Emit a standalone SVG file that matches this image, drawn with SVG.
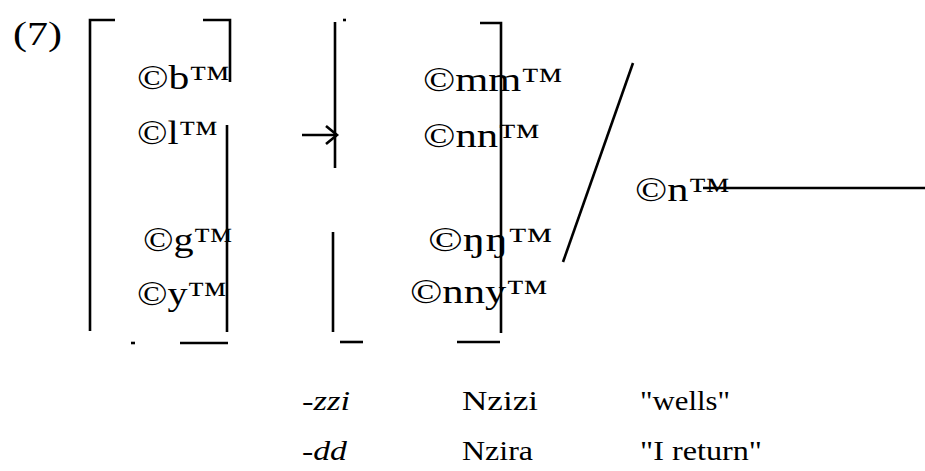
<svg xmlns="http://www.w3.org/2000/svg" width="925" height="471" viewBox="0 0 925 471">
<style>
text{font-family:"Liberation Serif","Times New Roman",serif;fill:#000}
.s{font-size:34px}
.b{font-size:28px}
.i{font-style:italic}
.ln{stroke:#000;stroke-width:2.6;fill:none;stroke-linecap:butt}
</style>
<rect width="925" height="471" fill="#fff"/>
<g id="label"><text class="s" x="13" y="45" textLength="49" lengthAdjust="spacingAndGlyphs">(7)</text></g>
<g id="set1">
<text class="s" x="137" y="89" textLength="93" lengthAdjust="spacingAndGlyphs">©b™</text>
<text class="s" x="137" y="144" textLength="81" lengthAdjust="spacingAndGlyphs">©l™</text>
<text class="s" x="143" y="251" textLength="90" lengthAdjust="spacingAndGlyphs">©g™</text>
<text class="s" x="137" y="305" textLength="90" lengthAdjust="spacingAndGlyphs">©y™</text>
</g>
<g id="set2">
<text class="s" x="423" y="91" textLength="140" lengthAdjust="spacingAndGlyphs">©mm™</text>
<text class="s" x="423" y="147" textLength="117" lengthAdjust="spacingAndGlyphs">©nn™</text>
<text class="s" x="428" y="251" textLength="125" lengthAdjust="spacingAndGlyphs">©ŋŋ™</text>
<text class="s" x="410" y="303" textLength="138" lengthAdjust="spacingAndGlyphs">©nny™</text>
</g>
<g id="env"><text class="s" x="635" y="201" textLength="95" lengthAdjust="spacingAndGlyphs">©n™</text></g>
<g id="examples">
<text class="b i" x="302" y="410" textLength="48" lengthAdjust="spacingAndGlyphs">-zzi</text>
<text class="b" x="462" y="410" textLength="76" lengthAdjust="spacingAndGlyphs">Nzizi</text>
<text class="b" x="640" y="410" textLength="90" lengthAdjust="spacingAndGlyphs">"wells"</text>
<text class="b i" x="302" y="460" textLength="45" lengthAdjust="spacingAndGlyphs">-dd</text>
<text class="b" x="462" y="460" textLength="71" lengthAdjust="spacingAndGlyphs">Nzira</text>
<text class="b" x="640" y="460" textLength="122" lengthAdjust="spacingAndGlyphs">"I return"</text>
</g>
<g id="connectors">
<path class="ln" d="M115,20 H90 V331"/>
<path class="ln" d="M131,343 H135"/>
<path class="ln" d="M203,20 H230 V82"/>
<path class="ln" d="M227,125 V332"/>
<path class="ln" d="M180,343 H228"/>
<path class="ln" d="M335,22 V168"/>
<path class="ln" d="M343,20 H346"/>
<path class="ln" d="M333,232 V332"/>
<path class="ln" d="M340,342 H363"/>
<path class="ln" d="M480,23 H501 V333"/>
<path class="ln" d="M457,342 H500"/>
<path class="ln" d="M302,135 H337"/>
<path class="ln" d="M326,126 L337,135 L326,144"/>
<path class="ln" d="M633,63 L563,262" stroke-width="2"/>
<path class="ln" d="M703,188 H925"/>
</g>
</svg>
